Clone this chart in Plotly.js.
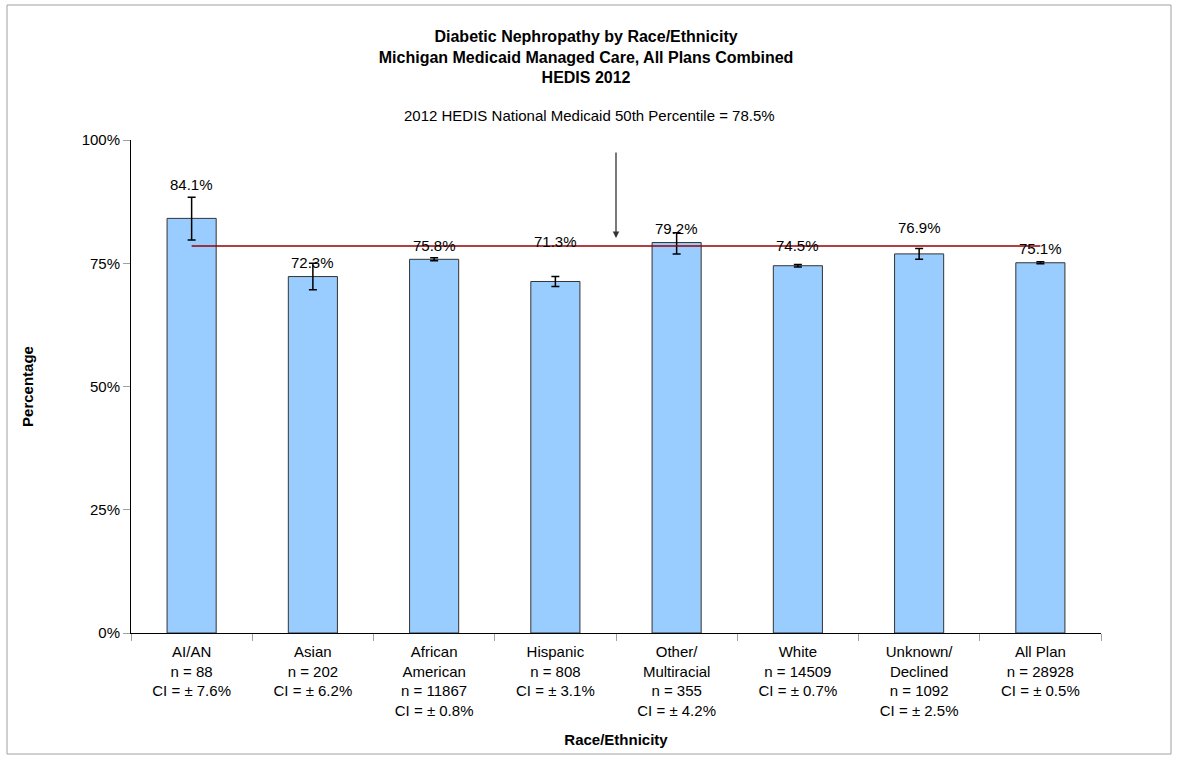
<!DOCTYPE html>
<html>
<head>
<meta charset="utf-8">
<script src="https://cdn.plot.ly/plotly-3.0.1.min.js"></script>
<style>
  html, body { margin: 0; padding: 0; background: #ffffff; }
  #chart { width: 1178px; height: 760px; }
</style>
</head>
<body>
<div id="chart"></div>
<script>
// ---- data ----
const categories = ['AI/AN', 'Asian', 'African American', 'Hispanic', 'Other/Multiracial', 'White', 'Unknown/Declined', 'All Plan'];
const categoryLines = ['AI/AN', 'Asian', 'African<br>American', 'Hispanic', 'Other/<br>Multiracial', 'White', 'Unknown/<br>Declined', 'All Plan'];
const rates = [84.1, 72.3, 75.8, 71.3, 79.2, 74.5, 76.9, 75.1];
const nValues = [88, 202, 11867, 808, 355, 14509, 1092, 28928];
const ciValues = [7.6, 6.2, 0.8, 3.1, 4.2, 0.7, 2.5, 0.5];
const errPlus = [4.3, 2.7, 0.3, 1.0, 2.0, 0.25, 1.1, 0.2];
const errMinus = [4.4, 2.7, 0.3, 1.0, 2.3, 0.25, 1.1, 0.2];
const benchmark = 78.5;
const benchmarkLabel = '2012 HEDIS National Medicaid 50th Percentile = 78.5%';
const titleLines = ['Diabetic Nephropathy by Race/Ethnicity', 'Michigan Medicaid Managed Care, All Plans Combined', 'HEDIS 2012'];
const yTickValues = [0, 25, 50, 75, 100];
const yTickLabels = ['0%', '25%', '50%', '75%', '100%'];

// ---- styling (not data) ----
const FONT = 'Liberation Sans, Arial, Helvetica, sans-serif';
const labelLift = [34, 14, 14, 40, 14.5, 20, 26, 14.5]; // px above bar top, as hand-placed in the reference

const tickText = categories.map((c, i) =>
  categoryLines[i] + '<br>n = ' + nValues[i] + '<br>CI = \u00b1 ' + ciValues[i].toFixed(1) + '%');

const bars = {
  type: 'bar',
  x: categories,
  y: rates,
  marker: { color: '#99ccff', line: { color: '#333333', width: 1 } },
  error_y: { type: 'data', symmetric: false, array: errPlus, arrayminus: errMinus,
             color: '#000000', thickness: 1.5, width: 4 },
  hoverinfo: 'skip',
  showlegend: false
};

const benchLine = {
  type: 'scatter',
  mode: 'lines',
  x: [categories[0], categories[categories.length - 1]],
  y: [benchmark, benchmark],
  line: { color: '#9a0000', width: 1.5 },
  hoverinfo: 'skip',
  showlegend: false
};

const annotations = rates.map((v, i) => ({
  x: categories[i], y: v, xref: 'x', yref: 'y',
  text: v.toFixed(1) + '%', showarrow: false,
  yanchor: 'middle', yshift: labelLift[i],
  font: { family: FONT, size: 15, color: '#000000' }
}));

annotations.push({
  xref: 'paper', yref: 'paper', x: 0.473, y: 1, yshift: 35,
  text: benchmarkLabel, showarrow: false,
  font: { family: FONT, size: 15, color: '#000000' }
});

annotations.push({
  xref: 'x', yref: 'y', x: 3.5, y: benchmark + 1.6,
  text: '', showarrow: true, ax: 0, ay: -87,
  arrowhead: 2, arrowsize: 1, arrowwidth: 1.3, arrowcolor: '#333333', standoff: 0
});

const layout = {
  width: 1178, height: 760,
  margin: { l: 131, r: 77, t: 140, b: 127, autoexpand: false },
  paper_bgcolor: '#ffffff', plot_bgcolor: '#ffffff',
  font: { family: FONT, size: 15, color: '#000000' },
  title: {
    text: '<b>' + titleLines.join('<br>') + '</b>',
    font: { family: FONT, size: 16, color: '#000000' },
    xref: 'container', x: 0.4975, xanchor: 'center',
    yref: 'container', y: 0.945, yanchor: 'top'
  },
  xaxis: {
    type: 'category',
    tickvals: categories, ticktext: tickText,
    tickson: 'boundaries', ticks: 'outside', ticklen: 7, tickcolor: '#a0a0a0',
    ticklabelstandoff: 5,
    showline: true, linecolor: '#000000', linewidth: 1,
    showgrid: false, zeroline: false,
    tickfont: { family: FONT, size: 15, color: '#000000' },
    title: { text: '<b>Race/Ethnicity</b>', standoff: 16,
             font: { family: FONT, size: 15, color: '#000000' } },
    fixedrange: true
  },
  yaxis: {
    range: [0, 100],
    tickmode: 'array', tickvals: yTickValues, ticktext: yTickLabels,
    ticks: 'outside', ticklen: 7, tickcolor: '#a0a0a0',
    showline: true, linecolor: '#000000', linewidth: 1,
    showgrid: false, zeroline: false,
    tickfont: { family: FONT, size: 15, color: '#000000' },
    title: { text: '<b>Percentage</b>', standoff: 44,
             font: { family: FONT, size: 15, color: '#000000' } },
    fixedrange: true
  },
  bargap: 0.595,
  annotations: annotations,
  shapes: [{
    type: 'rect', xref: 'paper', yref: 'paper',
    x0: (7 - 131) / 970, x1: (1171 - 131) / 970,
    y0: (633 - 754) / 493, y1: (633 - 5) / 493,
    line: { color: '#a0a0a0', width: 1 }, fillcolor: 'rgba(0,0,0,0)'
  }],
  hovermode: false,
  showlegend: false
};

Plotly.newPlot('chart', [bars, benchLine], layout, { displayModeBar: false, staticPlot: true });
</script>
</body>
</html>
